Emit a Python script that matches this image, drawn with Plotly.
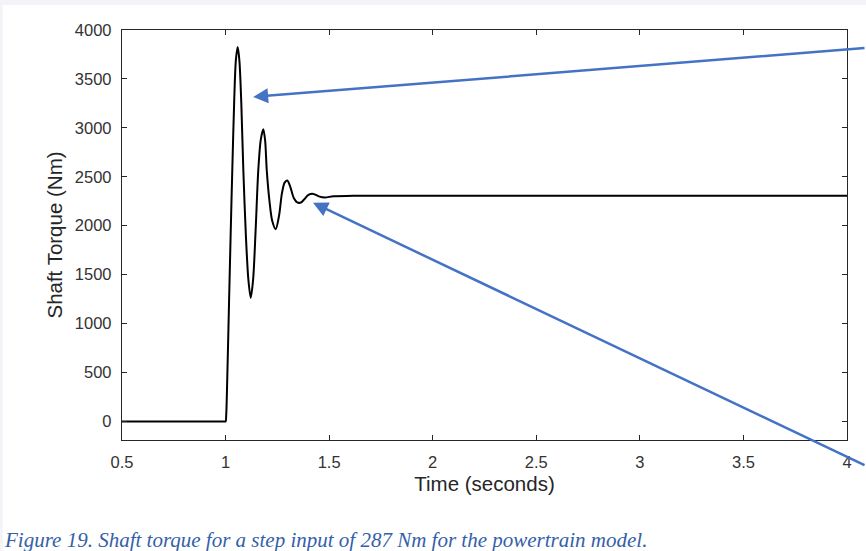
import plotly.graph_objects as go

# Shaft torque response
time_s = [0.5, 0.99, 1.0, 1.003, 1.010, 1.017, 1.025, 1.0325, 1.042, 1.050, 1.0587,
          1.067, 1.076, 1.0857, 1.098, 1.110, 1.1214, 1.133, 1.145, 1.158, 1.170,
          1.1823, 1.191, 1.1987, 1.212, 1.225, 1.242, 1.258, 1.272, 1.285, 1.298,
          1.312, 1.330, 1.346, 1.364, 1.380, 1.400, 1.424, 1.450, 1.480, 1.52,
          1.617, 4.0]
torque_nm = [0, 0, 0, 60, 600, 1240, 1950, 2571, 3300, 3700, 3825,
             3680, 3250, 2571, 1900, 1450, 1262, 1450, 1950, 2571, 2880,
             2985, 2870, 2571, 2250, 2050, 1965, 2100, 2330, 2440, 2462,
             2400, 2280, 2238, 2237, 2270, 2315, 2325, 2300, 2288, 2302,
             2305, 2305]

x_ticks = [0.5, 1, 1.5, 2, 2.5, 3, 3.5, 4]
x_tick_text = ["0.5", "1", "1.5", "2", "2.5", "3", "3.5", "4"]
y_ticks = [0, 500, 1000, 1500, 2000, 2500, 3000, 3500, 4000]

# arrow targets (data coords) and tail offsets (pixels)
arrow_heads = [(1.133, 3316), (1.422, 2234)]
arrow_tails_px = [(640, -49), (567, 263)]

caption = "Figure 19. Shaft torque for a step input of 287 Nm for the powertrain model."

BLUE = "#4472C4"
AX = "#262626"
SANS = "Liberation Sans, Arial, sans-serif"

fig = go.Figure()
fig.add_trace(go.Scatter(
    x=time_s, y=torque_nm, mode="lines",
    line=dict(color="black", width=2, shape="spline", smoothing=0.8),
    showlegend=False, hoverinfo="skip"))

axis_common = dict(
    showgrid=False, zeroline=False, showline=True, linecolor=AX, linewidth=1.3,
    mirror="ticks", ticks="inside", ticklen=5, tickwidth=1.3, tickcolor=AX,
    tickfont=dict(family=SANS, size=16.5, color="#333333"),
)
fig.update_xaxes(range=[0.5, 4], tickvals=x_ticks, ticktext=x_tick_text,
                 ticklabelstandoff=7,
                 title=dict(text="Time (seconds)", standoff=6,
                            font=dict(family=SANS, size=20.5, color="#262626")),
                 **axis_common)
fig.update_yaxes(range=[-190, 4000], tickvals=y_ticks,
                 ticklabelstandoff=6,
                 title=dict(text="Shaft Torque (Nm)", standoff=6,
                            font=dict(family=SANS, size=20.5, color="#262626")),
                 **axis_common)

for (hx, hy), (ax, ay) in zip(arrow_heads, arrow_tails_px):
    fig.add_annotation(x=hx, y=hy, xref="x", yref="y", ax=ax, ay=ay,
                       axref="pixel", ayref="pixel", text="", showarrow=True,
                       arrowhead=2, arrowsize=1.2, arrowwidth=2.5, arrowcolor=BLUE,
                       standoff=0)

fig.add_annotation(x=-0.165, y=-0.245, xref="paper", yref="paper",
                   xanchor="left", yanchor="middle", showarrow=False,
                   text="<i>" + caption + "</i>",
                   font=dict(family="Liberation Serif, serif", size=21, color="#3460a8"))

# light page-border bands at top and left edge
fig.add_shape(type="rect", xref="paper", yref="paper", x0=-0.2, x1=1.1, y0=1.061, y1=1.09,
              fillcolor="#f3f4f8", line_width=0, layer="below")
fig.add_shape(type="rect", xref="paper", yref="paper", x0=-0.2, x1=-0.1645, y0=-0.3, y1=1.09,
              fillcolor="#f3f4f8", line_width=0, layer="below")

fig.update_layout(
    width=866, height=551,
    margin=dict(l=122, r=19, t=30, b=111),
    paper_bgcolor="white", plot_bgcolor="white",
)
fig.write_html("out.html")
